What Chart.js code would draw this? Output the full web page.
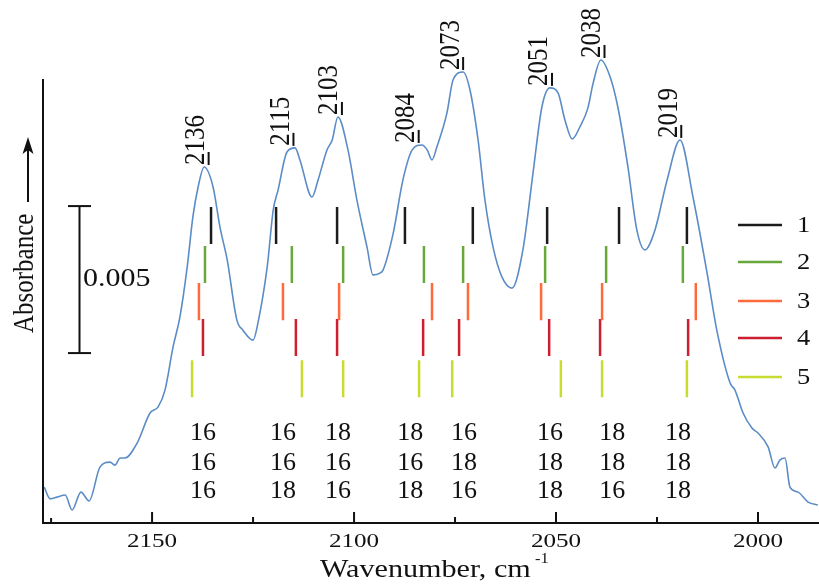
<!DOCTYPE html>
<html>
<head>
<meta charset="utf-8">
<script src="https://cdn.jsdelivr.net/npm/chart.js@4.4.0/dist/chart.umd.min.js"></script>
<style>
body { margin: 0; background: #fff; }
#wrap { width: 819px; height: 586px; }
</style>
</head>
<body>
<div id="wrap"><canvas id="myChart" width="819" height="586"></canvas></div>
<script>
// measured spectrum (wavenumber, cm-1 / absorbance)
const specWn = [2176.7, 2175.2, 2173.5, 2171.5, 2169.8, 2167.6, 2165.6, 2162.9, 2160.4, 2159.2,
    2157.9, 2156.7, 2153.7, 2150.5, 2148.5, 2146.8, 2144.8, 2143.1, 2141.3, 2139.9,
    2138.6, 2137.1, 2134.9, 2133.2, 2131.4, 2129.0, 2127.5, 2125.0, 2123.8, 2121.5,
    2120.0, 2118.8, 2116.6, 2114.6, 2113.4, 2110.4, 2108.9, 2106.7, 2105.4, 2104.0,
    2101.5, 2099.3, 2096.8, 2095.3, 2093.6, 2092.8, 2090.3, 2087.9, 2085.6, 2083.2,
    2081.9, 2080.7, 2079.5, 2077.0, 2075.5, 2073.0, 2071.3, 2069.3, 2067.6, 2065.6,
    2063.4, 2060.9, 2058.2, 2055.7, 2053.5, 2051.5, 2049.5, 2047.8, 2046.0, 2044.1,
    2042.1, 2040.8, 2038.9, 2036.6, 2034.7, 2032.2, 2030.0, 2028.0, 2025.5, 2022.5,
    2019.3, 2016.1, 2012.6, 2010.2, 2006.9, 2005.7, 2003.7, 2001.5, 2000.0, 1997.5,
    1995.8, 1994.6, 1993.3, 1992.1, 1990.1, 1987.6, 1985.2];
const specAbs = [0.00122, 0.00082, 0.00088, 0.00095, 0.00044, 0.00105, 0.00075, 0.00190, 0.00207, 0.00197,
    0.00221, 0.00221, 0.00272, 0.00374, 0.00395, 0.00452, 0.00599, 0.00701, 0.00871, 0.01041,
    0.01143, 0.01211, 0.01143, 0.01007, 0.00895, 0.00690, 0.00656, 0.00622, 0.00680, 0.00871,
    0.01065, 0.01133, 0.01262, 0.01276, 0.01235, 0.01109, 0.01167, 0.01269, 0.01303, 0.01381,
    0.01269, 0.01099, 0.00939, 0.00844, 0.00850, 0.00861, 0.00986, 0.01167, 0.01269, 0.01286,
    0.01269, 0.01235, 0.01279, 0.01395, 0.01507, 0.01534, 0.01473, 0.01303, 0.01099, 0.00939,
    0.00837, 0.00799, 0.00929, 0.01190, 0.01415, 0.01480, 0.01463, 0.01371, 0.01306, 0.01347,
    0.01412, 0.01497, 0.01575, 0.01517, 0.01415, 0.01211, 0.00997, 0.00929, 0.00997, 0.01167,
    0.01303, 0.01109, 0.00850, 0.00656, 0.00476, 0.00452, 0.00374, 0.00323, 0.00306, 0.00259,
    0.00187, 0.00214, 0.00221, 0.00122, 0.00105, 0.00071, 0.00061];

// calculated band positions for the five models
const stickLabels = ['1', '2', '3', '4', '5'];
const stick1 = [2135.4, 2119.3, 2104.2, 2087.4, 2070.6, 2052.2, 2034.4, 2017.6];
const stick2 = [2136.9, 2115.4, 2102.7, 2082.7, 2073.0, 2052.7, 2037.6, 2018.6];
const stick3 = [2138.4, 2117.6, 2103.7, 2080.7, 2071.8, 2053.7, 2038.6, 2015.4];
const stick4 = [2137.4, 2114.4, 2104.2, 2082.9, 2074.0, 2051.7, 2039.1, 2017.3];
const stick5 = [2140.1, 2112.9, 2102.7, 2083.9, 2075.7, 2048.8, 2038.6, 2017.6];

const peakWn = [2136, 2115, 2103, 2084, 2073, 2051, 2038, 2019];

// oxygen isotopes of each band, top to bottom
const isoWn = [2137.4, 2117.6, 2104.0, 2086.1, 2072.8, 2051.5, 2036.1, 2019.8];
const isoRows = [
    ['16', '16', '16'], ['16', '16', '18'], ['18', '16', '16'], ['18', '16', '18'],
    ['16', '18', '16'], ['16', '18', '18'], ['18', '18', '16'], ['18', '18', '18']
];

const majorTicks = [2150, 2100, 2050, 2000];
const minorTicks = [2175, 2125, 2075, 2025];

const serif = '"Liberation Serif", "DejaVu Serif", serif';
const stickColors = ['#1c1c1c', '#68a83a', '#ff6a3c', '#cc2030', '#c8dc30'];
const rowTop = [0.01075, 0.00942, 0.00816, 0.00694, 0.00554];
const stickLen = 0.00126;

function sticks(list, top) {
    let pts = [];
    list.forEach(w => {
        pts.push({ x: w, y: top }, { x: w, y: top - stickLen }, { x: w, y: null });
    });
    return pts;
}

function drawText(ctx, s, x, y, size, sx, align, base) {
    ctx.save();
    ctx.translate(x, y);
    ctx.scale(sx, 1);
    ctx.font = size + 'px ' + serif;
    ctx.textAlign = align;
    ctx.textBaseline = base;
    ctx.fillStyle = '#111';
    ctx.fillText(s, 0, 0);
    ctx.restore();
}

// text reading upwards, baseline at x, starting at y
function drawVText(ctx, s, x, y, size, sy) {
    ctx.save();
    ctx.translate(x, y);
    ctx.rotate(-Math.PI / 2);
    ctx.scale(1, sy);
    ctx.font = size + 'px ' + serif;
    ctx.textAlign = 'left';
    ctx.textBaseline = 'alphabetic';
    ctx.fillStyle = '#111';
    ctx.fillText(s, 0, 0);
    ctx.restore();
}

function line(ctx, x1, y1, x2, y2, color, w) {
    ctx.beginPath();
    ctx.moveTo(x1, y1);
    ctx.lineTo(x2, y2);
    ctx.strokeStyle = color;
    ctx.lineWidth = w;
    ctx.stroke();
}

const decor = {
    id: 'decor',
    afterDraw(chart) {
        const ctx = chart.ctx;
        const xs = chart.scales.x;
        const ys = chart.scales.y;
        const area = chart.chartArea;
        ctx.save();

        // left axis
        line(ctx, area.left, ys.getPixelForValue(0.0151), area.left, area.bottom + 1, '#111', 2);

        // ticks pointing inwards
        majorTicks.forEach(t => {
            let px = xs.getPixelForValue(t);
            line(ctx, px, area.bottom, px, area.bottom - 11, '#111', 2);
            drawText(ctx, String(t), px, area.bottom + 19, 19, 1.32, 'center', 'middle');
        });
        minorTicks.forEach(t => {
            let px = xs.getPixelForValue(t);
            line(ctx, px, area.bottom, px, area.bottom - (t === 2175 ? 5 : 6), '#111', 2);
        });

        // axis title
        drawText(ctx, 'Wavenumber, cm', 320, 577, 26, 1.16, 'left', 'alphabetic');
        drawText(ctx, '-1', 535, 563, 15, 1.1, 'left', 'alphabetic');

        // Absorbance with arrow
        drawVText(ctx, 'Absorbance', 33, 333, 25, 1.2);
        line(ctx, 28, 202, 28, 150, '#111', 2);
        ctx.beginPath();
        ctx.moveTo(28, 137);
        ctx.lineTo(22.5, 154);
        ctx.lineTo(28, 150);
        ctx.lineTo(33.5, 154);
        ctx.closePath();
        ctx.fillStyle = '#111';
        ctx.fill();

        // scale bar 0.005
        let sb1 = ys.getPixelForValue(0.00578);
        let sb2 = ys.getPixelForValue(0.00578 + 0.005);
        line(ctx, 79.5, sb1, 79.5, sb2, '#111', 2);
        line(ctx, 68, sb1, 91, sb1, '#111', 2);
        line(ctx, 68, sb2, 91, sb2, '#111', 2);
        drawText(ctx, '0.005', 83, (sb1 + sb2) / 2, 25, 1.2, 'left', 'middle');

        // peak labels
        peakWn.forEach(p => {
            let best = 0;
            specWn.forEach((w, i) => {
                if (Math.abs(w - p) < 2.5 && specAbs[i] > best) best = specAbs[i];
            });
            let px = xs.getPixelForValue(p);
            let py = ys.getPixelForValue(best);
            line(ctx, px, py - 2, px, py - 15, '#111', 2);
            drawVText(ctx, String(p), px - 4.5, py - 2, 25, 1.15);
        });

        // isotope table
        const rowY = [90, 60, 32];
        isoWn.forEach((w, i) => {
            let px = xs.getPixelForValue(w);
            isoRows[i].forEach((s, r) => {
                drawText(ctx, s, px, area.bottom - rowY[r], 26, 1.0, 'center', 'middle');
            });
        });

        // legend
        const legY = [225, 262, 301, 338, 377];
        chart.data.datasets.slice(1).forEach((ds, i) => {
            line(ctx, 738, legY[i], 782, legY[i], ds.borderColor, 2.5);
            drawText(ctx, ds.label, 797, legY[i] + 1, 23, 1.15, 'left', 'middle');
        });

        ctx.restore();
    }
};

let chart = null;

document.addEventListener("DOMContentLoaded", function () {
    const stickLists = [stick1, stick2, stick3, stick4, stick5];

    let datasets = [{
        label: 'spectrum',
        data: specWn.map((w, i) => ({ x: w, y: specAbs[i] })),
        borderColor: '#5b8cc6',
        borderWidth: 1.6,
        pointRadius: 0,
        cubicInterpolationMode: 'monotone',
        fill: false
    }];
    stickLists.forEach((list, i) => {
        datasets.push({
            label: stickLabels[i],
            data: sticks(list, rowTop[i]),
            borderColor: stickColors[i],
            borderWidth: 2.5,
            pointRadius: 0,
            spanGaps: false,
            fill: false
        });
    });

    chart = new Chart("myChart", {
        type: "line",
        data: { datasets: datasets },
        options: {
            responsive: false,
            animation: false,
            devicePixelRatio: 1,
            layout: { padding: { left: 43, right: 0, top: 0, bottom: 0 } },
            plugins: {
                legend: { display: false },
                tooltip: { enabled: false }
            },
            scales: {
                x: {
                    type: 'linear',
                    reverse: true,
                    min: 1984.9,
                    max: 2177,
                    grid: { display: false, drawTicks: false },
                    border: { display: true, color: '#111', width: 2 },
                    ticks: { display: false },
                    afterFit: function (scale) { scale.height = 63; }
                },
                y: {
                    display: false,
                    min: 0,
                    max: 0.01779
                }
            }
        },
        plugins: [decor]
    });
});
</script>
</body>
</html>
